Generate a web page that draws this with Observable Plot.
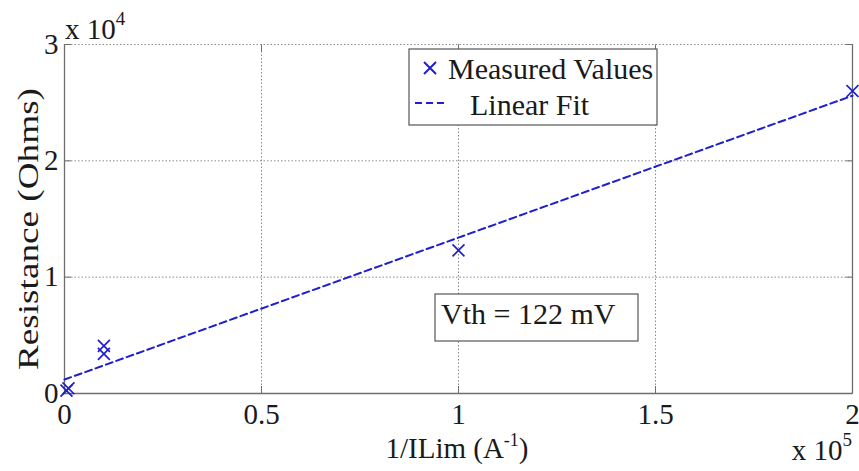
<!DOCTYPE html>
<html><head><meta charset="utf-8">
<script src="https://cdn.jsdelivr.net/npm/d3@7"></script>
<script src="https://cdn.jsdelivr.net/npm/@observablehq/plot@0.6"></script>
<style>body{margin:0;background:#fff} svg{display:block}</style>
</head><body><div id="chart"></div>
<script>
const measuredX = [500, 1000, 10000, 10000, 100000, 200000];
const measuredY = [250, 450, 3400, 4100, 12300, 26000];
const fitX = [0, 200000];
const fitY = [1200, 25600];
const xTicks = [0, 50000, 100000, 150000, 200000];
const xTickLabels = ["0", "0.5", "1", "1.5", "2"];
const yTicks = [0, 10000, 20000, 30000];
const yTickLabels = ["0", "1", "2", "3"];
const legendLabels = ["Measured Values", "Linear Fit"];
const annotation = "Vth = 122 mV";

const measured = measuredX.map((x, i) => ({x, y: measuredY[i]}));
const fit = fitX.map((x, i) => ({x, y: fitY[i]}));

const blue = "#1f1fcf";
const axisColor = "#6e6e6e";
const gridColor = "#8a8a8a";
const font = "'Liberation Serif', 'Times New Roman', serif";

const chart = Plot.plot({
  width: 859, height: 471,
  marginLeft: 64, marginRight: 7, marginTop: 44, marginBottom: 78,
  style: {fontFamily: font, fontSize: "29px", background: "#fff", color: "#1a1a1a", overflow: "visible"},
  x: {domain: [0, 200000]},
  y: {domain: [0, 30000]},
  marks: [
    Plot.gridX(xTicks.slice(1, -1), {stroke: gridColor, strokeOpacity: 1, strokeDasharray: "1.5,2"}),
    Plot.gridY(yTicks.slice(1), {stroke: gridColor, strokeOpacity: 1, strokeDasharray: "1.5,2"}),
    Plot.ruleY([0], {stroke: axisColor, strokeWidth: 1.3}),
    Plot.ruleX([0], {stroke: axisColor, strokeWidth: 1.3}),
    Plot.ruleX([200000], {stroke: axisColor, strokeWidth: 1.3}),
    Plot.axisX(xTicks, {tickSize: -7, tickFormat: () => "", label: null, stroke: axisColor}),
    Plot.axisX(xTicks, {anchor: "top", tickSize: -7, tickFormat: () => "", label: null, stroke: axisColor}),
    Plot.axisY(yTicks, {tickSize: -7, tickFormat: () => "", label: null, stroke: axisColor}),
    Plot.axisY(yTicks, {anchor: "right", tickSize: -7, tickFormat: () => "", label: null, stroke: axisColor}),
    Plot.axisX(xTicks, {tickSize: 0, tickPadding: 10, tickFormat: d => xTickLabels[xTicks.indexOf(d)], label: null, fill: "#1a1a1a"}),
    Plot.axisY(yTicks, {tickSize: 0, tickPadding: 6, tickFormat: d => yTickLabels[yTicks.indexOf(d)], label: null, fill: "#1a1a1a"}),
    Plot.line(fit, {x: "x", y: "y", stroke: blue, strokeWidth: 2, strokeDasharray: "7,4"}),
    Plot.dot(measured, {x: "x", y: "y", symbol: "times", r: 5.5, stroke: blue, strokeWidth: 1.7})
  ]
});
document.getElementById("chart").appendChild(chart);

const svg = d3.select(chart);
const T = (sel) => sel.attr("font-family", font).attr("fill", "#1a1a1a").attr("text-anchor", "start");

// Y axis label
T(svg.append("text"))
  .attr("transform", "translate(38,229) rotate(-90)")
  .attr("text-anchor", "middle").attr("font-size", 29)
  .attr("textLength", 282).attr("lengthAdjust", "spacingAndGlyphs")
  .text("Resistance (Ohms)");

// X axis label
const xl = T(svg.append("text")).attr("x", 457).attr("y", 458)
  .attr("text-anchor", "middle").attr("font-size", 29);
xl.append("tspan").text("1/ILim (A");
xl.append("tspan").attr("font-size", 18).attr("dy", -12).text("-1");
xl.append("tspan").attr("dy", 12).text(")");

// Exponent labels
const e4 = T(svg.append("text")).attr("x", 65).attr("y", 39).attr("font-size", 29);
e4.append("tspan").text("x 10");
e4.append("tspan").attr("font-size", 19).attr("dy", -14).text("4");
const e5 = T(svg.append("text")).attr("x", 852).attr("y", 460).attr("text-anchor", "end").attr("font-size", 29);
e5.append("tspan").text("x 10");
e5.append("tspan").attr("font-size", 19).attr("dy", -14).text("5");

// Legend
const lg = svg.append("g");
lg.append("rect").attr("x", 409).attr("y", 49).attr("width", 248).attr("height", 76)
  .attr("fill", "#fff").attr("stroke", "#555").attr("stroke-width", 1.2);
lg.append("path").attr("d", "M424,62L436,74M436,62L424,74").attr("stroke", blue).attr("stroke-width", 2);
T(lg.append("text")).attr("x", 448).attr("y", 79).attr("font-size", 30).text(legendLabels[0]);
lg.append("line").attr("x1", 415).attr("x2", 447).attr("y1", 103).attr("y2", 103)
  .attr("stroke", blue).attr("stroke-width", 2).attr("stroke-dasharray", "7,4");
T(lg.append("text")).attr("x", 470).attr("y", 115).attr("font-size", 30).text(legendLabels[1]);

// Annotation box
const ab = svg.append("g");
ab.append("rect").attr("x", 435).attr("y", 294).attr("width", 203).attr("height", 47)
  .attr("fill", "#fff").attr("stroke", "#555").attr("stroke-width", 1.2);
T(ab.append("text")).attr("x", 441).attr("y", 324).attr("font-size", 30).text(annotation);
</script>
</body></html>
